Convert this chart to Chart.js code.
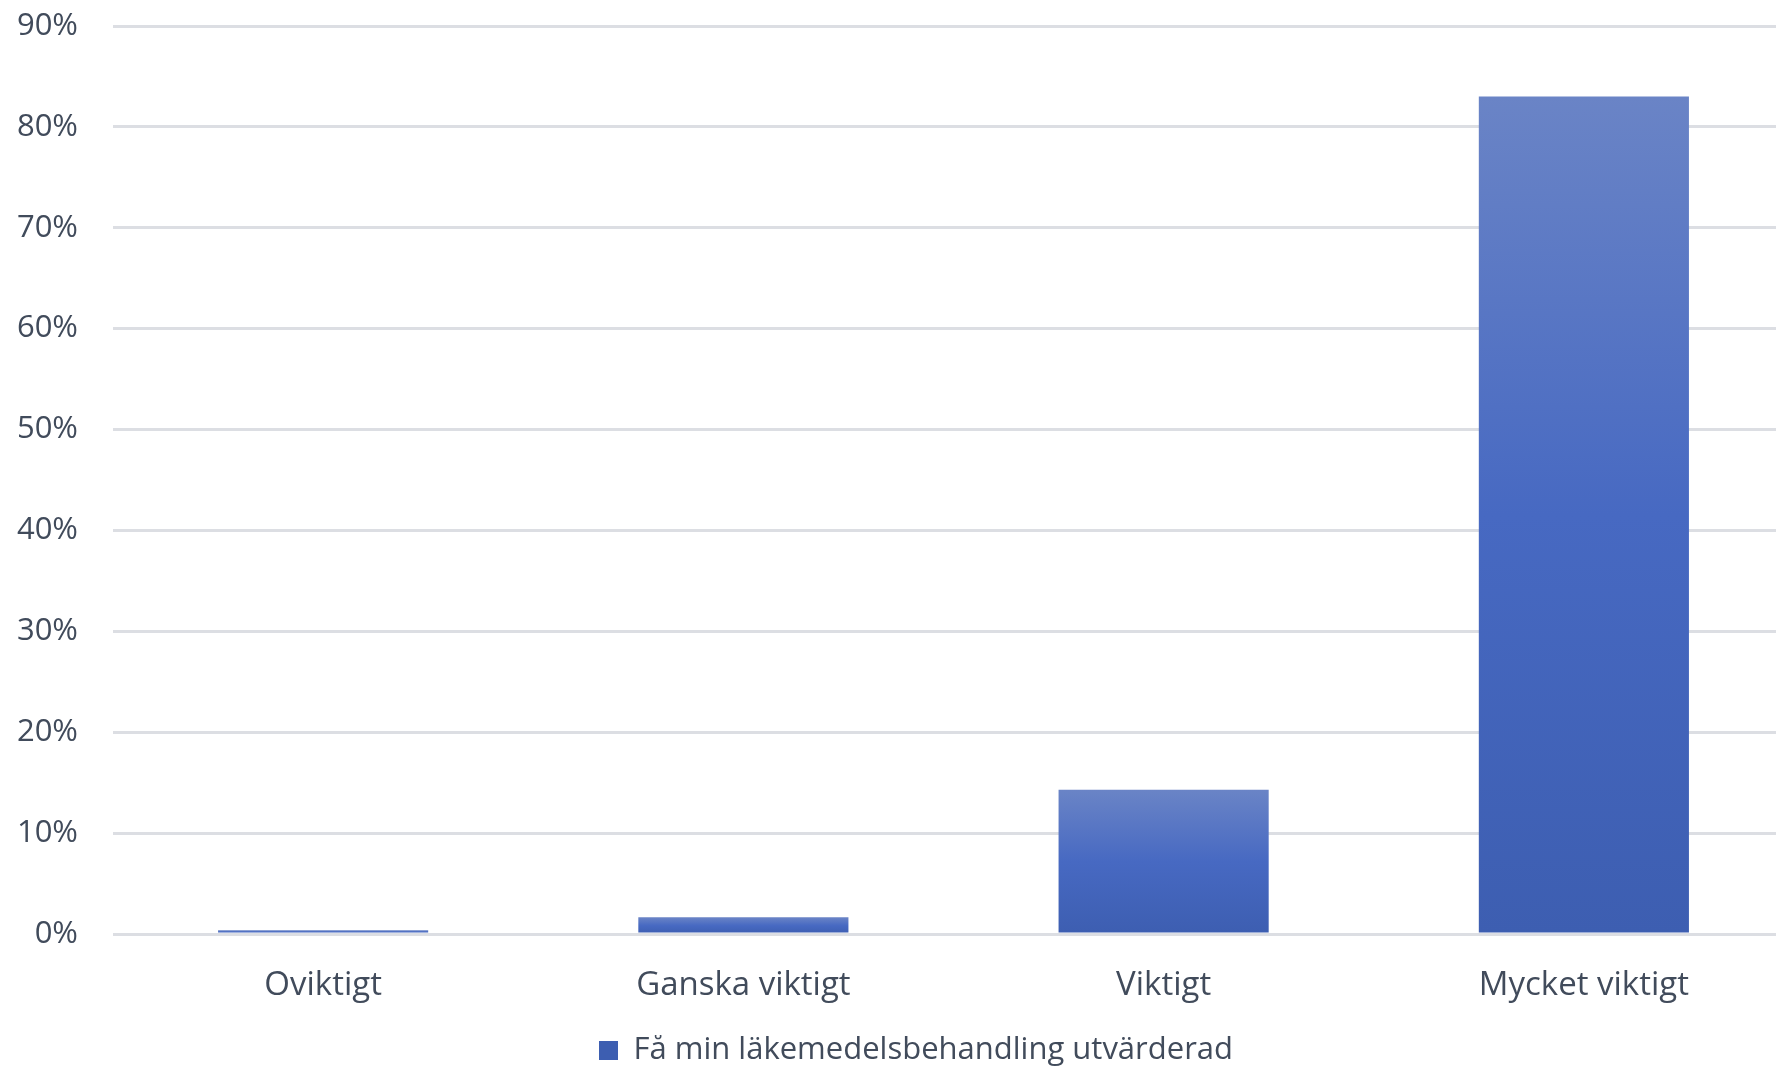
<!DOCTYPE html>
<html>
<head>
<meta charset="utf-8">
<script src="https://cdn.jsdelivr.net/npm/chart.js@4"></script>
<style>
  html, body { margin: 0; padding: 0; background: #fff; overflow: hidden; }
  #wrap { width: 1832px; height: 1067px; }
</style>
</head>
<body>
<div id="wrap"><canvas id="chartViktigt"></canvas></div>
<script>
const labels = ["Oviktigt", "Ganska viktigt", "Viktigt", "Mycket viktigt"];
const dataValues = [0.37, 1.65, 14.3, 83.0]; // procent
const seriesName = "Få min läkemedelsbehandling utvärderad";
const yTicks = [0, 10, 20, 30, 40, 50, 60, 70, 80, 90];

const textColor = "#414b5b";
const gridColor = "#dcdee3";

// gradient per stapel: ljus upptill, mörk nertill
function barColor(context) {
  const chart = context.chart;
  if (!chart.chartArea || context.type !== "data") return "#4667c0";
  const y = chart.scales.y;
  const top = y.getPixelForValue(context.raw);
  const base = y.getPixelForValue(0);
  if (base - top < 1) return "#4667c0";
  const g = chart.ctx.createLinearGradient(0, top, 0, base);
  g.addColorStop(0, "#6a84c6");
  g.addColorStop(0.5, "#4769c2");
  g.addColorStop(1, "#3d5eb1");
  return g;
}

const myChart = new Chart(document.getElementById("chartViktigt"), {
  type: "bar",
  data: {
    labels: labels,
    datasets: [
      {
        label: seriesName,
        data: dataValues,
        backgroundColor: barColor,
        borderWidth: 0,
        categoryPercentage: 0.5,
        barPercentage: 1.0,
      },
    ],
  },
  options: {
    responsive: true,
    maintainAspectRatio: false,
    animation: false,
    layout: { padding: { top: 26, left: 0, right: 0, bottom: -9 } },
    plugins: {
      tooltip: { enabled: false },
      legend: {
        position: "bottom",
        labels: {
          color: textColor,
          font: { family: "'Open Sans'", size: 31, weight: 500, lineHeight: 1.0 },
          boxWidth: 19,
          boxHeight: 19,
          padding: 0,
        },
      },
    },
    scales: {
      x: {
        grid: { display: false, drawTicks: false },
        border: { display: false },
        ticks: {
          color: textColor,
          font: { family: "'Open Sans'", size: 33, weight: 500 },
          padding: 32,
        },
        afterFit: (scale) => { scale.height = 101; },
      },
      y: {
        min: 0,
        max: 90,
        afterBuildTicks: (scale) => { scale.ticks = yTicks.map((v) => ({ value: v })); },
        grid: { color: gridColor, lineWidth: 3, drawTicks: false },
        border: { display: false },
        ticks: {
          color: textColor,
          font: { family: "'Open Sans'", size: 31, weight: 500 },
          padding: 35,
          callback: (v) => v + "%",
        },
        afterFit: (scale) => {
          scale.width = 113;
          // tick-padding ska inte flytta ritytan nedåt
          scale.paddingTop = 0;
          scale.paddingBottom = 0;
        },
      },
      // tom axel till höger så att ritytan går utanför bilden som i originalet
      yRight: {
        position: "right",
        grid: { display: false, drawTicks: false },
        border: { display: false },
        ticks: { display: false },
        afterFit: (scale) => {
          scale.width = 38;
          scale.paddingTop = 0;
          scale.paddingBottom = 0;
        },
      },
    },
  },
});
</script>
</body>
</html>
